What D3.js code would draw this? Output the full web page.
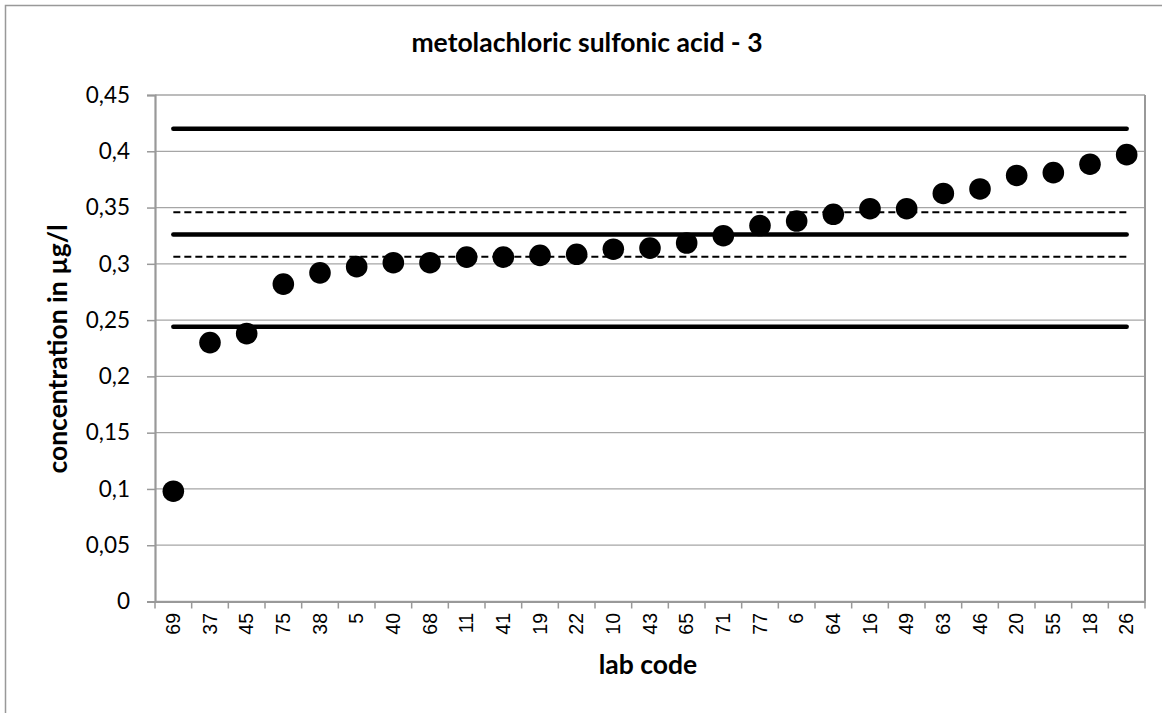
<!DOCTYPE html>
<html><head><meta charset="utf-8">
<script src="https://cdn.jsdelivr.net/npm/d3@7"></script>
<style>body{margin:0;background:#fff;}svg{display:block;}</style>
</head><body>
<svg id="c" width="1162" height="713"></svg>
<script>
const labCodes = ["69","37","45","75","38","5","40","68","11","41","19","22","10","43","65","71","77","6","64","16","49","63","46","20","55","18","26"];
const concentrations = [0.098,0.230,0.238,0.282,0.292,0.2975,0.301,0.301,0.306,0.306,0.3075,0.3085,0.313,0.314,0.3185,0.325,0.334,0.338,0.344,0.349,0.349,0.3625,0.3665,0.3785,0.381,0.3885,0.397];
const solidLimits = [0.42, 0.326, 0.244];
const dashedLimits = [0.3458, 0.3064];
const yTicks = [0,0.05,0.1,0.15,0.2,0.25,0.3,0.35,0.4,0.45];
const title = "metolachloric sulfonic acid - 3";
const xTitle = "lab code";
const yTitle = "concentration in µg/l";

const svg = d3.select("#c");
const m = {left:155, right:1145, top:95, bottom:601.5};
const calibri = "Lato, 'Open Sans', sans-serif";

svg.append("rect").attr("x",5.5).attr("y",5.5).attr("width",1200).attr("height",800)
  .attr("fill","#fff").attr("stroke","#999").attr("stroke-width",1.5);

const x = d3.scaleBand().domain(labCodes).range([m.left,m.right]).padding(0);
const y = d3.scaleLinear().domain([0,0.45]).range([m.bottom,m.top]);
const fmt = d => String(+d.toFixed(2)).replace(".", ",");

// gridlines
svg.append("g").selectAll("line").data(yTicks).join("line")
  .attr("x1",m.left).attr("x2",m.right)
  .attr("y1",d=>y(d)).attr("y2",d=>y(d))
  .attr("stroke","#a6a6a6").attr("stroke-width",1.3);
// right border
svg.append("line").attr("x1",m.right).attr("x2",m.right).attr("y1",m.top).attr("y2",m.bottom)
  .attr("stroke","#999").attr("stroke-width",2);

// y axis
const ya = svg.append("g").attr("transform",`translate(${m.left},0)`)
  .call(d3.axisLeft(y).tickValues(yTicks).tickFormat(fmt).tickSize(8).tickPadding(17));
ya.select(".domain").attr("stroke","#999").attr("stroke-width",2.2);
ya.selectAll(".tick line").attr("stroke","#999").attr("stroke-width",1.5);
ya.selectAll("text").attr("font-family",calibri).attr("font-size",22.5).attr("fill","#000");

// x axis
const xa = svg.append("g").attr("transform",`translate(0,${m.bottom})`)
  .call(d3.axisBottom(x).tickSize(0).tickSizeOuter(0));
xa.select(".domain").attr("stroke","#999").attr("stroke-width",2.2);
xa.selectAll("text").attr("font-family","'Liberation Sans', Arial, sans-serif").attr("font-size",19.5).attr("fill","#000")
  .attr("transform","rotate(-90)").attr("text-anchor","end").attr("dy","0.35em").attr("x",-11.5).attr("y",0);
// boundary ticks
const bounds = labCodes.map(d=>x(d)).concat([m.right]);
svg.append("g").selectAll("line").data(bounds).join("line")
  .attr("x1",d=>d).attr("x2",d=>d).attr("y1",m.bottom).attr("y2",m.bottom+7)
  .attr("stroke","#999").attr("stroke-width",1.5);

const xc = d => x(d)+x.bandwidth()/2;
const x0 = xc(labCodes[0]), x1 = xc(labCodes[labCodes.length-1]);

// limit lines
svg.append("g").selectAll("line").data(solidLimits).join("line")
  .attr("x1",x0).attr("x2",x1).attr("y1",d=>y(d)).attr("y2",d=>y(d))
  .attr("stroke","#000").attr("stroke-width",4.5).attr("stroke-linecap","round");
svg.append("g").selectAll("line").data(dashedLimits).join("line")
  .attr("x1",x0).attr("x2",x1).attr("y1",d=>y(d)).attr("y2",d=>y(d))
  .attr("stroke","#000").attr("stroke-width",2).attr("stroke-dasharray","7,4");

// points
svg.append("g").selectAll("circle").data(concentrations).join("circle")
  .attr("cx",(d,i)=>xc(labCodes[i])).attr("cy",d=>y(d)).attr("r",10.8).attr("fill","#000");

// titles
svg.append("text").attr("x",587).attr("y",52).attr("text-anchor","middle")
  .attr("font-family",calibri).attr("font-weight","bold").attr("font-size",26.5).text(title);
svg.append("text").attr("x",648).attr("y",674).attr("text-anchor","middle")
  .attr("font-family",calibri).attr("font-weight","bold").attr("font-size",26.5).text(xTitle);
svg.append("text").attr("transform","translate(67,349) rotate(-90)").attr("text-anchor","middle")
  .attr("font-family",calibri).attr("font-weight","bold").attr("font-size",26.5).text(yTitle);
</script>
</body></html>
